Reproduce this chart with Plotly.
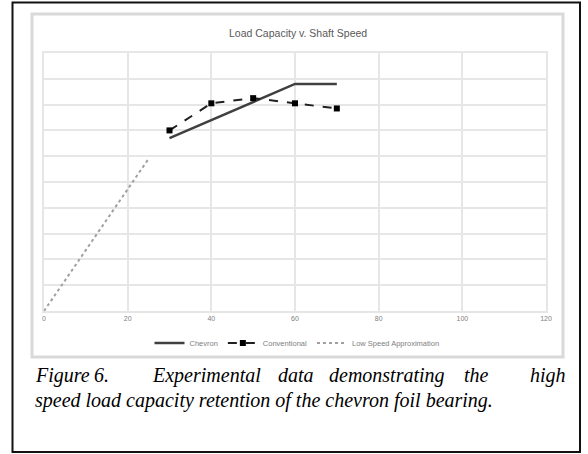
import plotly.graph_objects as go

# Data (y in arbitrary load units 0-100)
chevron_speed = [30, 60, 70]
chevron_load = [67, 88, 88]
conv_speed = [30, 40, 50, 60, 70]
conv_load = [70, 80.5, 82.5, 80.5, 78.5]
low_speed = [0, 25]
low_load = [0, 59]
x_ticks = [0, 20, 40, 60, 80, 100, 120]

W, H = 588, 454
L, R, T, B = 44, 546, 53, 311


def px(x):
    return (x - L) / (R - L)


def py(y):
    return (B - y) / (B - T)


fig = go.Figure()
fig.add_trace(go.Scatter(x=chevron_speed, y=chevron_load, mode="lines", name="Chevron",
                         line=dict(color="#404040", width=2.5)))
fig.add_trace(go.Scatter(x=conv_speed, y=conv_load, mode="lines+markers", name="Conventional",
                         line=dict(color="#202020", width=2, dash="dash"),
                         marker=dict(symbol="square", size=6, color="#000000")))
fig.add_trace(go.Scatter(x=low_speed, y=low_load, mode="lines", name="Low Speed Approximation",
                         line=dict(color="#a0a0a0", width=2, dash="dot")))

shapes = [
    dict(type="rect", xref="paper", yref="paper", x0=px(32), x1=px(563), y0=py(357), y1=py(14),
         line=dict(color="#d9d9d9", width=3), layer="below"),
    dict(type="rect", xref="paper", yref="paper", x0=px(12.5), x1=px(580), y0=py(452), y1=py(2.5),
         line=dict(color="#111111", width=2), layer="above"),
]

annotations = [
    dict(text="Load Capacity v. Shaft Speed", xref="paper", yref="paper", x=px(298), y=py(33),
         xanchor="center", yanchor="middle",
         showarrow=False, font=dict(family="Arial", size=10.5, color="#595959")),
]

cap_font = dict(family="Liberation Serif", size=20, color="#000000")
line1 = [("<i>Figure</i>", 33, "left"), ("<i>6.</i>", 92, "left"), ("<i>Experimental</i>", 150, "left"),
         ("<i>data</i>", 276, "left"), ("<i>demonstrating</i>", 327, "left"), ("<i>the</i>", 462, "left"),
         ("<i>high</i>", 568, "right")]
for word, x0, anc in line1:
    annotations.append(dict(text=word, xref="paper", yref="paper", x=px(x0), y=py(375),
                            xanchor=anc, yanchor="middle", showarrow=False, font=cap_font))
annotations.append(dict(text="<i>speed load capacity retention of the chevron foil bearing.</i>",
                        xref="paper", yref="paper", x=px(33), y=py(400), xanchor="left",
                        yanchor="middle", showarrow=False, font=cap_font))

fig.update_layout(
    width=W, height=H,
    margin=dict(l=L, r=W - R, t=T, b=H - B),
    paper_bgcolor="white", plot_bgcolor="white",
    showlegend=True,
    legend=dict(orientation="h", x=px(297), xanchor="center", y=py(343), yanchor="middle",
                font=dict(family="Arial", size=7.5, color="#808080"), bgcolor="rgba(0,0,0,0)"),
    xaxis=dict(range=[0, 120], tickvals=x_ticks, showgrid=True, gridcolor="#e6e6e6", gridwidth=2,
               zeroline=False, showline=True, linecolor="#e6e6e6", linewidth=2, mirror=True,
               tickfont=dict(family="Arial", size=7, color="#808080"), ticks=""),
    yaxis=dict(range=[0, 100], dtick=10, showgrid=True, gridcolor="#e6e6e6", gridwidth=2,
               zeroline=False, showline=True, linecolor="#e6e6e6", linewidth=2, mirror=True,
               showticklabels=False, ticks=""),
    shapes=shapes,
    annotations=annotations,
)

fig.write_html("out.html", config={"displayModeBar": False},
               post_script="document.body.style.margin='0';document.body.style.overflow='hidden';")
